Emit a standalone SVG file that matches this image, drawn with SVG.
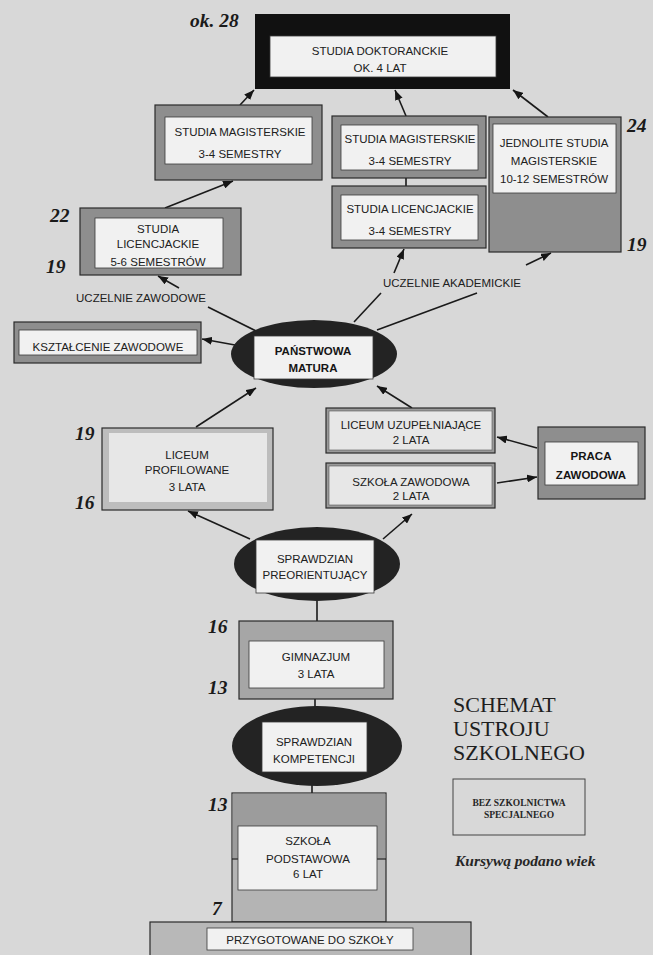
<svg xmlns="http://www.w3.org/2000/svg" width="653" height="955" viewBox="0 0 653 955">
<defs>
<marker id="ah" viewBox="0 0 10 8" refX="10" refY="4" markerWidth="10" markerHeight="8" markerUnits="userSpaceOnUse" orient="auto">
<path d="M0,0 L10,4 L0,8 Z" fill="#151515"/>
</marker>
<style>
.bg{fill:#d8d8d8}
.band{fill:#8e8e8e;stroke:#2a2a2a;stroke-width:1.2}
.lband{fill:#bdbdbd;stroke:#2a2a2a;stroke-width:1.2}
.thin{fill:#9a9a9a;stroke:#2a2a2a;stroke-width:1.2}
.inner{fill:#f1f1f1;stroke:#3a3a3a;stroke-width:0.8}
.linner{fill:#e7e7e7;stroke:none}
.ell{fill:#232323}
.t{font-family:"Liberation Sans",Arial,sans-serif;font-size:11.5px;fill:#202020;text-anchor:middle}
.b{font-weight:bold;fill:#151515}
.age{font-family:"Liberation Serif","Times New Roman",serif;font-style:italic;font-weight:bold;font-size:19.5px;fill:#1a1a1a}
.ttl{font-family:"Liberation Serif","Times New Roman",serif;font-size:22px;fill:#1e1e1e}
.sm{font-family:"Liberation Serif","Times New Roman",serif;font-size:9.5px;font-weight:bold;fill:#262626;text-anchor:middle}
.con{stroke:#1a1a1a;stroke-width:1.6;fill:none}
.arr{marker-end:url(#ah)}
</style>
</defs>
<rect class="bg" x="0" y="0" width="653" height="955"/>

<g id="connectors">
<line class="con arr" x1="240" y1="105" x2="254" y2="90"/>
<line class="con arr" x1="406" y1="116" x2="395" y2="90"/>
<line class="con arr" x1="548" y1="117" x2="513" y2="90"/>
<line class="con arr" x1="165" y1="208" x2="233" y2="181"/>
<line class="con arr" x1="179" y1="288" x2="158" y2="276"/>
<line class="con arr" x1="394" y1="273" x2="404" y2="249"/>
<line class="con arr" x1="526" y1="265" x2="551" y2="253"/>
<line class="con" x1="208" y1="307" x2="256" y2="331"/>
<line class="con" x1="354" y1="322" x2="381" y2="293"/>
<line class="con" x1="377" y1="330" x2="477" y2="293"/>
<line class="con arr" x1="235" y1="345" x2="202" y2="339"/>
<line class="con arr" x1="196" y1="427" x2="256" y2="388"/>
<line class="con arr" x1="412" y1="408" x2="377" y2="386"/>
<line class="con arr" x1="537" y1="448" x2="497" y2="437"/>
<line class="con arr" x1="497" y1="483" x2="537" y2="477"/>
<line class="con arr" x1="250" y1="539" x2="188" y2="511"/>
<line class="con arr" x1="383" y1="539" x2="412" y2="514"/>
<line class="con" x1="317" y1="601" x2="317" y2="621"/>
<line class="con" x1="315" y1="699" x2="315" y2="707"/>
<line class="con" x1="312" y1="785" x2="312" y2="793"/>
<line class="con" x1="406" y1="178" x2="406" y2="186"/>
</g>

<g id="doktoranckie">
<rect x="255" y="14" width="255" height="75" fill="#111"/>
<rect class="inner" x="270" y="36" width="226" height="41"/>
<text class="t" x="380" y="55">STUDIA DOKTORANCKIE</text>
<text class="t" x="380" y="72">OK. 4 LAT</text>
</g>

<g id="magisterskie-l">
<rect class="band" x="155" y="105" width="167" height="75"/>
<rect class="inner" x="165" y="117" width="147" height="47"/>
<text class="t" x="240" y="136">STUDIA MAGISTERSKIE</text>
<text class="t" x="240" y="158">3-4 SEMESTRY</text>
</g>

<g id="magisterskie-m">
<rect class="band" x="332" y="116" width="154" height="62"/>
<rect class="inner" x="341" y="125" width="137" height="45"/>
<text class="t" x="410" y="143">STUDIA MAGISTERSKIE</text>
<text class="t" x="410" y="165">3-4 SEMESTRY</text>
</g>

<g id="licencjackie-m">
<rect class="band" x="332" y="186" width="154" height="62"/>
<rect class="inner" x="341" y="195" width="137" height="45"/>
<text class="t" x="410" y="213">STUDIA LICENCJACKIE</text>
<text class="t" x="410" y="235">3-4 SEMESTRY</text>
</g>

<g id="jednolite">
<rect class="band" x="489" y="117" width="132" height="135"/>
<rect class="inner" x="493" y="124" width="123" height="69"/>
<text class="t" x="554" y="147">JEDNOLITE STUDIA</text>
<text class="t" x="554" y="165">MAGISTERSKIE</text>
<text class="t" x="554" y="183">10-12 SEMESTRÓW</text>
</g>

<g id="licencjackie-l">
<rect class="band" x="80" y="208" width="161" height="67"/>
<rect class="inner" x="95" y="218" width="128" height="50"/>
<text class="t" x="158" y="233">STUDIA</text>
<text class="t" x="158" y="248">LICENCJACKIE</text>
<text class="t" x="158" y="266">5-6 SEMESTRÓW</text>
</g>

<g id="uczelnie-zawodowe">
<text class="t" x="141" y="302">UCZELNIE ZAWODOWE</text>
</g>
<g id="uczelnie-akademickie">
<text class="t" x="452" y="287">UCZELNIE AKADEMICKIE</text>
</g>

<g id="ksztalcenie">
<rect class="band" x="14" y="322" width="187" height="41"/>
<rect class="inner" x="19" y="330" width="178" height="25"/>
<text class="t" x="108" y="351">KSZTAŁCENIE ZAWODOWE</text>
</g>

<g id="matura">
<ellipse class="ell" cx="314" cy="354" rx="83" ry="34"/>
<rect class="inner" x="254" y="336" width="119" height="43"/>
<text class="t b" x="313" y="355">PAŃSTWOWA</text>
<text class="t b" x="313" y="372">MATURA</text>
</g>

<g id="liceum-profilowane">
<rect class="lband" x="102" y="428" width="171" height="82"/>
<rect class="linner" x="109" y="433" width="158" height="69"/>
<text class="t" x="187" y="459">LICEUM</text>
<text class="t" x="187" y="474">PROFILOWANE</text>
<text class="t" x="187" y="491">3 LATA</text>
</g>

<g id="liceum-uzupelniajace">
<rect class="thin" x="326" y="408" width="169" height="45"/>
<rect class="linner" x="329" y="411" width="163" height="39" style="stroke:#555;stroke-width:0.6"/>
<text class="t" x="411" y="429">LICEUM UZUPEŁNIAJĄCE</text>
<text class="t" x="411" y="444">2 LATA</text>
</g>

<g id="szkola-zawodowa">
<rect class="thin" x="326" y="463" width="169" height="45"/>
<rect class="linner" x="329" y="466" width="163" height="39" style="stroke:#555;stroke-width:0.6"/>
<text class="t" x="411" y="486">SZKOŁA ZAWODOWA</text>
<text class="t" x="411" y="500">2 LATA</text>
</g>

<g id="praca">
<rect class="band" x="538" y="427" width="107" height="72"/>
<rect class="inner" x="545" y="442" width="93" height="43"/>
<text class="t b" x="591" y="460">PRACA</text>
<text class="t b" x="591" y="479">ZAWODOWA</text>
</g>

<g id="sprawdzian-preorientujacy">
<ellipse class="ell" cx="317" cy="564" rx="83" ry="37"/>
<rect class="inner" x="256" y="540" width="118" height="53"/>
<text class="t" x="315" y="563">SPRAWDZIAN</text>
<text class="t" x="315" y="579">PREORIENTUJĄCY</text>
</g>

<g id="gimnazjum">
<rect x="239" y="621" width="154" height="78" fill="#a6a6a6" stroke="#2a2a2a" stroke-width="1.2"/>
<rect class="inner" x="249" y="641" width="135" height="47"/>
<text class="t" x="316" y="661">GIMNAZJUM</text>
<text class="t" x="316" y="678">3 LATA</text>
</g>

<g id="sprawdzian-kompetencji">
<ellipse class="ell" cx="317" cy="746" rx="85" ry="40"/>
<rect class="inner" x="262" y="722" width="105" height="50"/>
<text class="t" x="314" y="746">SPRAWDZIAN</text>
<text class="t" x="314" y="763">KOMPETENCJI</text>
</g>

<g id="szkola-podstawowa">
<rect x="232" y="793" width="154" height="129" fill="#b4b4b4" stroke="#2a2a2a" stroke-width="1.2"/>
<rect x="232.6" y="793.6" width="152.8" height="65" fill="#9c9c9c"/>
<line x1="232" y1="859" x2="238" y2="859" stroke="#222" stroke-width="1.2"/>
<line x1="377" y1="859" x2="386" y2="859" stroke="#222" stroke-width="1.2"/>
<rect class="inner" x="238" y="826" width="139" height="64"/>
<text class="t" x="308" y="845">SZKOŁA</text>
<text class="t" x="308" y="863">PODSTAWOWA</text>
<text class="t" x="308" y="878">6 LAT</text>
</g>

<g id="przygotowanie">
<rect x="150" y="922" width="321" height="40" fill="#b8b8b8" stroke="#2a2a2a" stroke-width="1.2"/>
<rect class="inner" x="207" y="928" width="206" height="22"/>
<text class="t" x="310" y="944">PRZYGOTOWANE DO SZKOŁY</text>
</g>

<g id="ages">
<text class="age" x="190" y="27">ok. 28</text>
<text class="age" x="627" y="132">24</text>
<text class="age" x="627" y="251">19</text>
<text class="age" x="50" y="222">22</text>
<text class="age" x="46" y="273">19</text>
<text class="age" x="75" y="440">19</text>
<text class="age" x="75" y="509">16</text>
<text class="age" x="208" y="633">16</text>
<text class="age" x="208" y="694">13</text>
<text class="age" x="208" y="811">13</text>
<text class="age" x="212" y="915">7</text>
</g>

<g id="legend">
<text class="ttl" x="453" y="712">SCHEMAT</text>
<text class="ttl" x="453" y="736">USTROJU</text>
<text class="ttl" x="453" y="760">SZKOLNEGO</text>
<rect x="453" y="779" width="132" height="56" fill="none" stroke="#444" stroke-width="1"/>
<text class="sm" x="519" y="806">BEZ SZKOLNICTWA</text>
<text class="sm" x="519" y="818">SPECJALNEGO</text>
<text x="455" y="866" font-family="'Liberation Serif','Times New Roman',serif" font-style="italic" font-weight="bold" font-size="15.5px" fill="#262626">Kursywą podano wiek</text>
</g>
</svg>
